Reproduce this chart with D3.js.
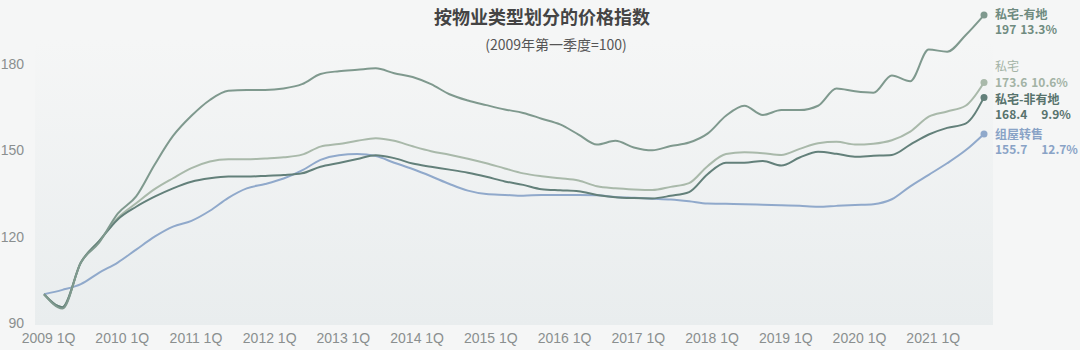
<!DOCTYPE html>
<html>
<head>
<meta charset="utf-8">
<script src="https://cdn.jsdelivr.net/npm/d3@7"></script>
<style>
  body { margin: 0; background: #f5f6f6; }
  svg { display: block; font-family: "Noto Sans CJK SC", "Noto Sans", sans-serif; }
</style>
</head>
<body>
<script>
// 2009 1Q ... 2021 4Q
const years = d3.range(2009, 2022);
const quarters = years.flatMap(y => [1, 2, 3, 4].map(q => y + " " + q + "Q"));

const seriesNames = ["私宅-有地", "私宅", "私宅-非有地", "组屋转售"];
const landed = [100, 95, 111, 118, 128, 134, 145, 155, 162, 167.5, 170.7, 171, 171, 171.5,
  173, 176.5, 177.5, 178, 178.5, 176.8, 175.5, 173, 169.5, 167.3, 165.7, 164.2, 163,
  161, 159, 155.5, 152, 153.3, 151, 150, 151.5, 152.7, 155.8, 162, 165.5, 162.3, 164,
  164, 165.5, 171.5, 170.5, 170, 176, 174, 185, 184.3, 190, 197];
const privateAll = [100, 95.5, 111, 118.5, 126.5, 131.6, 136.5, 140.3, 143.8, 146.1, 146.9, 146.9, 147.2, 147.6,
  148.5, 151.3, 152.2, 153.3, 154.2, 153.3, 151.4, 149.7, 148.5, 147.1, 145.5, 143.7, 142,
  141, 140.3, 139.5, 137.5, 136.8, 136.4, 136.2, 137.3, 138.6, 144.5, 148.7, 149.3, 149, 148.4,
  150.5, 152.5, 153, 152, 152.3, 153.5, 156.5, 161.7, 163.5, 165.5, 173.6];
const nonLanded = [100, 95.5, 111, 118.5, 126, 130.4, 133.9, 136.8, 139.1, 140.3, 140.9, 140.9, 141.1, 141.4,
  142, 144.3, 145.6, 147, 148.3, 147.3, 145.4, 144.3, 143.3, 142.2, 140.8, 139.2, 138,
  136.5, 136.1, 135.8, 134.5, 133.7, 133.4, 133.3, 134.2, 135.5, 141.7, 145.7, 145.7, 146.3, 144.7,
  147.5, 149.5, 148.8, 147.8, 148.1, 148.4, 152, 155.5, 157.8, 159.3, 168.4];
const hdbResale = [100, 101.5, 103.5, 107.5, 111, 115.5, 120, 123.5, 125.5, 129, 133.5, 136.8, 138.3, 140.2,
  143, 146.7, 148.3, 148.7, 148, 145.7, 143.5, 141, 138.3, 136, 134.8, 134.5, 134.2,
  134.5, 134.5, 134.5, 134.4, 133.8, 133.5, 133.2, 132.9, 132.3, 131.5, 131.4, 131.3, 131.1, 130.9,
  130.7, 130.4, 130.7, 131, 131.3, 133, 137.5, 141.5, 145.5, 150, 155.7];
const lastValues = ["197", "173.6", "168.4", "155.7"];
const yoyChange = ["13.3%", "10.6%", "9.9%", "12.7%"];
const yTicks = [90, 120, 150, 180];

const colors = ["#7f998e", "#a9b9aa", "#63807a", "#90a9cb"];
const labelColors = ["#6f8b80", "#a3b3a5", "#58736d", "#89a3c6"];
const allSeries = [landed, privateAll, nonLanded, hdbResale];

const width = 1080, height = 350;
const svg = d3.select("body").append("svg")
  .attr("width", width)
  .attr("height", height);

// plot background gradient
const grad = svg.append("defs").append("linearGradient")
  .attr("id", "bg").attr("x1", 0).attr("y1", 0).attr("x2", 0).attr("y2", 1);
grad.append("stop").attr("offset", "0%").attr("stop-color", "#f5f6f6");
grad.append("stop").attr("offset", "100%").attr("stop-color", "#e9edee");
svg.append("rect")
  .attr("x", 35).attr("y", 40).attr("width", 958).attr("height", 285)
  .attr("fill", "url(#bg)");

const x = d3.scaleLinear().domain([0, quarters.length - 1]).range([44, 984]);
const y = d3.scaleLinear().domain([90, 180]).range([323, 64]);

// title
svg.append("text")
  .attr("x", 542).attr("y", 24)
  .attr("text-anchor", "middle")
  .attr("font-size", 18).attr("font-weight", "bold").attr("fill", "#444")
  .text("按物业类型划分的价格指数");
svg.append("text")
  .attr("x", 556).attr("y", 50)
  .attr("text-anchor", "middle")
  .attr("font-size", 14).attr("fill", "#555")
  .text("(2009年第一季度=100)");

// y axis
const axisY = d3.axisLeft(y).tickValues(yTicks).tickSize(0);
svg.append("g")
  .attr("transform", "translate(27,0)")
  .call(axisY)
  .call(g => g.select(".domain").remove())
  .call(g => g.selectAll("text")
    .attr("font-family", "Liberation Sans, Arial, sans-serif")
    .attr("font-size", 14).attr("fill", "#8a8f8f"));

// x axis
const axisX = d3.axisBottom(x)
  .tickValues(d3.range(0, quarters.length, 4))
  .tickFormat(i => quarters[i])
  .tickSize(0);
svg.append("g")
  .attr("transform", "translate(4,330)")
  .call(axisX)
  .call(g => g.select(".domain").remove())
  .call(g => g.selectAll("text")
    .attr("font-family", "Liberation Sans, Arial, sans-serif")
    .attr("font-size", 14).attr("fill", "#8a8f8f"));

// lines
const line = d3.line()
  .x((d, i) => x(i))
  .y(d => y(d))
  .curve(d3.curveMonotoneX);

// draw order: blue at back
[3, 1, 2, 0].forEach(k => {
  svg.append("path")
    .datum(allSeries[k])
    .attr("fill", "none")
    .attr("stroke", colors[k])
    .attr("stroke-width", 2)
    .attr("d", line);
});

const last = quarters.length - 1;
svg.selectAll("circle.end")
  .data(allSeries)
  .join("circle")
  .attr("class", "end")
  .attr("cx", x(last))
  .attr("cy", d => y(d[last]))
  .attr("r", 3.5)
  .attr("fill", (d, k) => colors[k]);

// end labels (name line shifted up for 私宅 to avoid overlap)
const nameShift = [0, -15, 3, 1];
const valueShift = [15, 1, 18, 16];
const pctGap = [4, 4, 14, 14];
allSeries.forEach((s, k) => {
  const yy = y(s[last]);
  svg.append("text")
    .attr("x", 995).attr("y", yy + nameShift[k] + 4)
    .attr("font-size", 12).attr("font-weight", k === 1 ? "normal" : "bold")
    .attr("fill", labelColors[k])
    .text(seriesNames[k]);
  const t = svg.append("text")
    .attr("x", 995).attr("y", yy + valueShift[k] + 4)
    .attr("font-size", 12).attr("font-weight", "bold")
    .attr("fill", labelColors[k]);
  t.append("tspan").text(lastValues[k]);
  t.append("tspan").attr("dx", pctGap[k]).text(yoyChange[k]);
});
</script>
</body>
</html>
